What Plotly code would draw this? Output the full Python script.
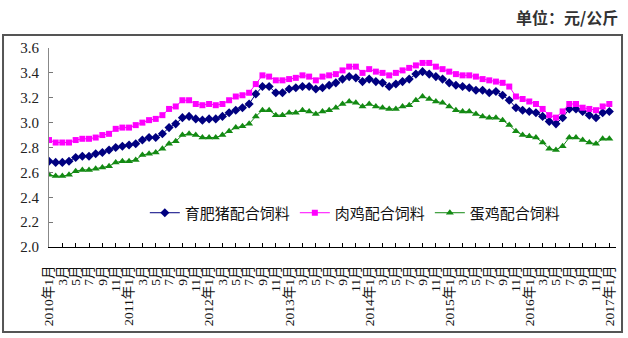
import plotly.graph_objects as go

# categories: monthly, Jan 2010 .. Feb 2017 (last category has no data)
months = [f"{y}年{m}月" for y in range(2010, 2018) for m in range(1, 13)][:86]

pig = [2.69, 2.68, 2.68, 2.69, 2.72, 2.73, 2.73, 2.75, 2.76, 2.78, 2.80, 2.81,
       2.82, 2.83, 2.86, 2.88, 2.88, 2.91, 2.96, 2.99, 3.04, 3.05, 3.03, 3.02,
       3.03, 3.03, 3.05, 3.08, 3.10, 3.12, 3.15, 3.23, 3.29, 3.29, 3.24, 3.24,
       3.27, 3.28, 3.29, 3.29, 3.27, 3.28, 3.30, 3.32, 3.35, 3.37, 3.36, 3.33,
       3.35, 3.33, 3.32, 3.29, 3.31, 3.33, 3.35, 3.39, 3.41, 3.39, 3.37, 3.35,
       3.32, 3.30, 3.29, 3.28, 3.26, 3.26, 3.24, 3.25, 3.22, 3.18, 3.12, 3.10,
       3.09, 3.08, 3.05, 3.01, 2.99, 3.04, 3.11, 3.11, 3.09, 3.06, 3.04, 3.08,
       3.09]

broiler = [2.86, 2.84, 2.84, 2.84, 2.86, 2.87, 2.87, 2.88, 2.90, 2.91, 2.95, 2.96,
           2.96, 2.98, 3.00, 3.02, 3.03, 3.06, 3.11, 3.13, 3.18, 3.18, 3.15, 3.14,
           3.15, 3.14, 3.15, 3.18, 3.21, 3.22, 3.24, 3.31, 3.38, 3.37, 3.34, 3.34,
           3.35, 3.36, 3.38, 3.37, 3.34, 3.37, 3.38, 3.39, 3.42, 3.45, 3.45, 3.40,
           3.43, 3.41, 3.40, 3.38, 3.40, 3.42, 3.44, 3.46, 3.48, 3.48, 3.45, 3.43,
           3.41, 3.39, 3.38, 3.38, 3.37, 3.35, 3.34, 3.33, 3.32, 3.29, 3.21, 3.19,
           3.17, 3.15, 3.11, 3.06, 3.04, 3.09, 3.15, 3.15, 3.12, 3.11, 3.10, 3.13,
           3.15]

layer = [2.58, 2.57, 2.57, 2.58, 2.61, 2.62, 2.62, 2.63, 2.64, 2.65, 2.68, 2.69,
         2.69, 2.70, 2.74, 2.75, 2.76, 2.79, 2.83, 2.85, 2.90, 2.91, 2.90, 2.88,
         2.88, 2.88, 2.90, 2.93, 2.96, 2.97, 2.99, 3.05, 3.10, 3.10, 3.06, 3.06,
         3.08, 3.08, 3.10, 3.09, 3.07, 3.09, 3.10, 3.12, 3.15, 3.17, 3.16, 3.13,
         3.15, 3.13, 3.12, 3.11, 3.11, 3.13, 3.14, 3.18, 3.21, 3.19, 3.17, 3.16,
         3.13, 3.10, 3.09, 3.09, 3.07, 3.05, 3.04, 3.04, 3.02, 2.98, 2.93, 2.90,
         2.89, 2.88, 2.84, 2.79, 2.78, 2.81, 2.88, 2.88, 2.86, 2.84, 2.83, 2.87,
         2.87]

series_names = ["育肥猪配合饲料", "肉鸡配合饲料", "蛋鸡配合饲料"]
y_ticks = [2.0, 2.2, 2.4, 2.6, 2.8, 3.0, 3.2, 3.4, 3.6]

tick_vals = months[:85:2]
tick_text = [m if m.endswith("年1月") else m.split("年")[1] for m in tick_vals]

fig = go.Figure()
styles = [
    (pig, "#000080", "diamond", 7),
    (broiler, "#FF00FF", "square", 6),
    (layer, "#138A13", "triangle-up", 7),
]
for name, (vals, col, sym, sz) in zip(series_names, styles):
    fig.add_trace(go.Scatter(
        x=months[:len(vals)], y=vals, name=name, mode="lines+markers",
        line=dict(color=col, width=1),
        marker=dict(symbol=sym, size=sz, color=col, line=dict(width=0)),
    ))

serif = "Liberation Serif, DejaVu Serif, Noto Sans CJK SC"
fig.update_layout(
    width=628, height=338,
    margin=dict(l=49, r=12, t=48, b=91),
    paper_bgcolor="white", plot_bgcolor="white",
    showlegend=True,
    legend=dict(orientation="h", x=0.169, xanchor="left", y=0.171, yanchor="middle",
                font=dict(family="Noto Sans CJK SC", size=15, color="#111"),
                bgcolor="rgba(0,0,0,0)", itemclick=False),
    xaxis=dict(type="category", categoryorder="array", categoryarray=months,
               range=[0, 85], tickmode="array", tickvals=tick_vals, ticktext=tick_text,
               tickangle=-90, ticks="inside", ticklen=4, tickcolor="#000",
               showline=True, linecolor="#000", linewidth=1, showgrid=False,
               zeroline=False, ticklabelstandoff=12, automargin=False,
               tickfont=dict(family=serif, size=13.5, color="#111")),
    yaxis=dict(range=[2.0, 3.6], tickmode="array", tickvals=y_ticks,
               ticktext=[f"{v:.1f}" for v in y_ticks],
               ticks="inside", ticklen=4, tickcolor="#777",
               showline=True, linecolor="#888", linewidth=1, showgrid=False,
               zeroline=False, ticklabelstandoff=6, automargin=False,
               tickfont=dict(family=serif, size=15, color="#222")),
    font=dict(family="Noto Sans CJK SC"),
)

fig.add_shape(type="rect", xref="paper", yref="paper",
              x0=-0.0811, x1=1.0106, y0=-0.427, y1=1.065,
              line=dict(color="#555", width=2), fillcolor="rgba(0,0,0,0)", layer="below")

fig.add_annotation(text="<b>单位：元/公斤</b>", xref="paper", yref="paper",
                   x=1.007, y=1.156, xanchor="right", yanchor="middle", showarrow=False,
                   font=dict(family="Noto Sans CJK SC", size=16, color="#333"))

fig.write_html("out.html")
